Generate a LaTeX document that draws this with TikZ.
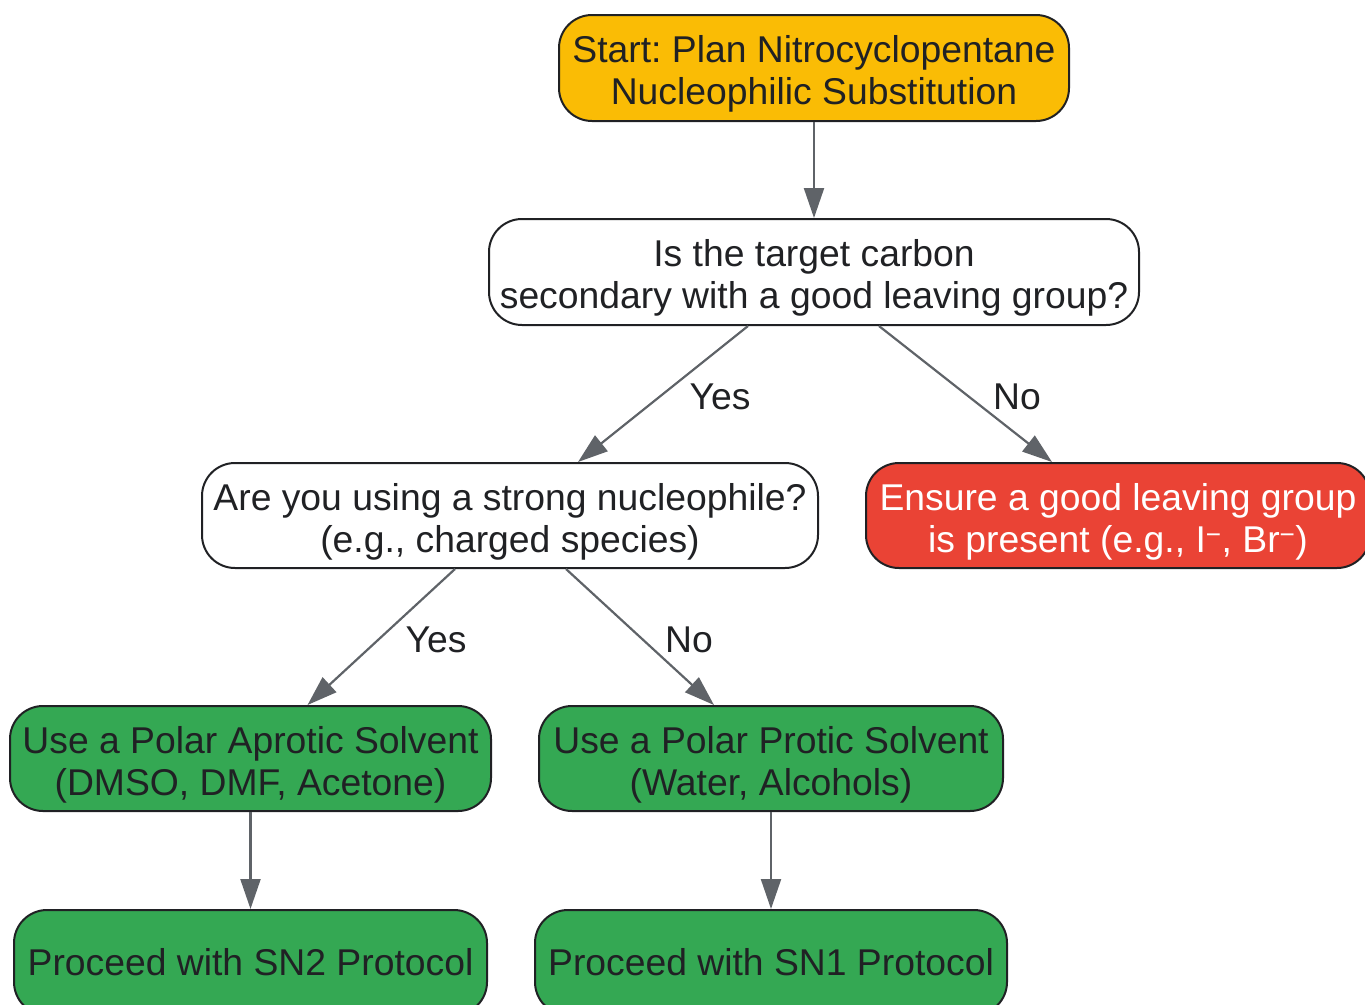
\documentclass[tikz,border=0pt]{standalone}
\usepackage{fontspec}
\setmainfont{Liberation Sans}
\frenchspacing
\usetikzlibrary{arrows.meta}
\definecolor{cOrange}{HTML}{FABC05}
\definecolor{cRed}{HTML}{EA4335}
\definecolor{cGreen}{HTML}{34A853}
\definecolor{cEdge}{HTML}{5F6368}
\definecolor{cText}{HTML}{202124}
\newcommand{\topstrut}{\rule{0pt}{39pt}}
\tikzset{
  box/.style={draw=cText, line width=2pt, rounded corners=33pt, align=center,
    text=cText, inner sep=0pt, font=\fontsize{37.3}{42}\selectfont},
  conn/.style={draw=cEdge, line width=2.2pt, -{Triangle[length=30pt,width=20pt]}},
  lab/.style={text=cText, font=\fontsize{37.3}{42}\selectfont, inner sep=0pt}
}
\begin{document}
\begin{tikzpicture}[x=1pt,y=-1pt]
\useasboundingbox (0,0) rectangle (1365,1004);
\clip (0,0) rectangle (1365,1004);
\node[box, fill=cOrange, minimum width=510pt, minimum height=106pt] (start) at (814,68) {\topstrut Start: Plan Nitrocyclopentane\\Nucleophilic Substitution};
\node[box, fill=white, minimum width=650pt, minimum height=106pt] (q1) at (814,272) {\topstrut Is the target carbon\\secondary with a good leaving group?};
\node[box, fill=white, minimum width=616pt, minimum height=105pt] (q2) at (510,515.5) {\topstrut Are you using a strong nucleophile?\\(e.g., charged species)};
\node[box, fill=cRed, text=white, minimum width=504pt, minimum height=105pt] (red) at (1118,515.5) {\topstrut Ensure a good leaving group\\is present (e.g., I\textsuperscript{−}, Br\textsuperscript{−})};
\node[box, fill=cGreen, minimum width=481pt, minimum height=105pt] (g1) at (250.5,758.5) {\topstrut Use a Polar Aprotic Solvent\\(DMSO, DMF, Acetone)};
\node[box, fill=cGreen, minimum width=464pt, minimum height=105pt] (g2) at (771,758.5) {\topstrut Use a Polar Protic Solvent\\(Water, Alcohols)};
\node[box, fill=cGreen, minimum width=473pt, minimum height=105pt] (g3) at (250.5,962.5) {Proceed with SN2 Protocol};
\node[box, fill=cGreen, minimum width=472pt, minimum height=105pt] (g4) at (771,962.5) {Proceed with SN1 Protocol};

\draw[conn] (start.south) -- (q1.north);
\draw[conn] ([xshift=-66pt]q1.south) -- ([xshift=68pt]q2.north);
\draw[conn] ([xshift=65pt]q1.south) -- ([xshift=-66pt]red.north);
\draw[conn] ([xshift=-55pt]q2.south) -- ([xshift=57pt]g1.north);
\draw[conn] ([xshift=56pt]q2.south) -- ([xshift=-57pt]g2.north);
\draw[conn] (g1.south) -- (g3.north);
\draw[conn] (g2.south) -- (g4.north);

\node[lab] (l1) at (720,397) {Yes};
\node[lab] (l2) at (1017,397) {No};
\node[lab] (l3) at (436,640) {Yes};
\node[lab] (l4) at (689,640) {No};
\end{tikzpicture}
\end{document}
